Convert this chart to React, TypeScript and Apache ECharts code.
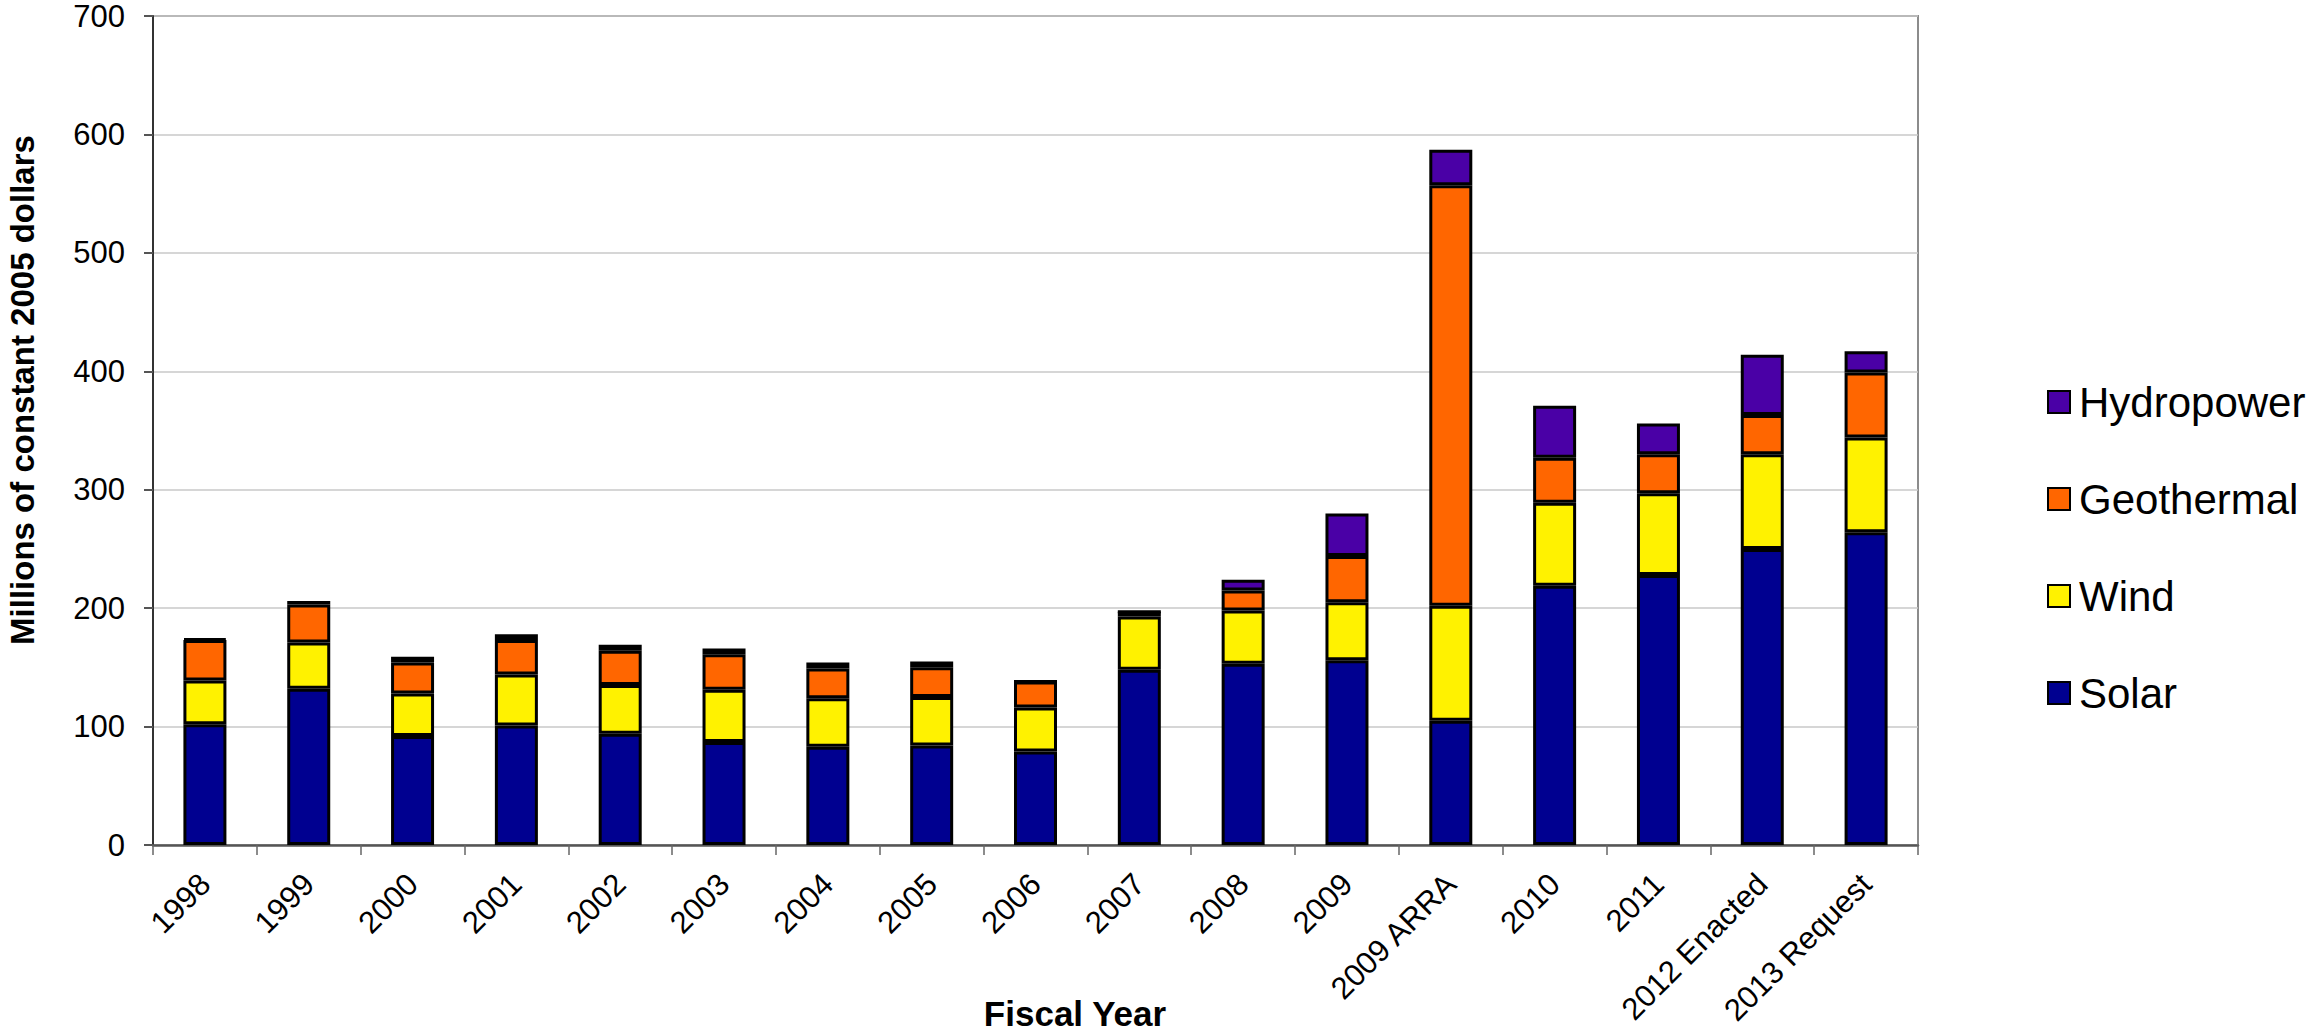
import React, { useEffect, useRef } from "react";
import * as echarts from "echarts";

const categories = [
  "1998", "1999", "2000", "2001", "2002", "2003", "2004", "2005", "2006",
  "2007", "2008", "2009", "2009 ARRA", "2010", "2011", "2012 Enacted", "2013 Request",
];
const solar = [102, 132, 92, 101, 94, 87, 83, 84, 79, 148, 153, 156, 105, 219, 228, 250, 264];
const wind = [37, 39, 36, 43, 41, 44, 41, 41, 37, 45, 45, 49, 97, 70, 69, 80, 80];
const geothermal = [34, 32, 26, 29, 29, 30, 25, 25, 22, 4, 17, 39, 355, 38, 33, 33, 55];
const hydropower = [1, 3, 5, 5, 5, 5, 5, 5, 0, 0, 9, 36, 30, 44, 26, 51, 18];
const yTicks = [0, 100, 200, 300, 400, 500, 600, 700];
const legendOrder = ["Hydropower", "Geothermal", "Wind", "Solar"];

const FONT = "'Liberation Sans', Arial, Helvetica, sans-serif";

export default function App() {
  const ref = useRef<HTMLDivElement>(null);
  useEffect(() => {
    document.body.style.margin = "0";
    const chart = echarts.init(ref.current!, null, { renderer: "svg" });
    const mk = (name: string, data: number[], color: string) => ({
      name,
      type: "bar",
      stack: "total",
      data,
      barWidth: 43,
      itemStyle: { color, borderColor: "#000", borderWidth: 3 },
    });
    chart.setOption({
      animation: false,
      backgroundColor: "#fff",
      textStyle: { fontFamily: FONT },
      grid: {
        left: 153,
        right: 390,
        top: 16,
        bottom: 188,
        show: true,
        borderColor: "#8c8c8c",
        borderWidth: 2,
      },
      legend: {
        orient: "vertical",
        left: 2042,
        top: 376,
        itemWidth: 22,
        itemHeight: 22,
        itemGap: 55,
        icon: "rect",
        data: legendOrder,
        itemStyle: { borderColor: "#000", borderWidth: 2 },
        textStyle: {
          fontSize: 42,
          lineHeight: 42,
          color: "#000",
          fontFamily: FONT,
          padding: [0, 0, 0, 4],
        },
      },
      xAxis: {
        type: "category",
        data: categories,
        axisLine: { lineStyle: { color: "#555", width: 2.5 } },
        axisTick: { show: true, length: 10, lineStyle: { color: "#666", width: 1.5 } },
        axisLabel: {
          rotate: 45,
          fontSize: 31,
          color: "#000",
          margin: 34,
          interval: 0,
          fontFamily: FONT,
        },
      },
      yAxis: {
        type: "value",
        min: yTicks[0],
        max: yTicks[yTicks.length - 1],
        interval: 100,
        axisLine: { show: true, lineStyle: { color: "#333", width: 2 } },
        axisTick: { show: true, length: 9, lineStyle: { color: "#555", width: 2 } },
        axisLabel: { fontSize: 31, lineHeight: 26, color: "#000", margin: 28, fontFamily: FONT },
        splitLine: { lineStyle: { color: "#c8c8c8", width: 1.5 } },
      },
      graphic: [
        {
          type: "text",
          x: 22,
          y: 390,
          rotation: Math.PI / 2,
          style: {
            text: "Millions of constant 2005 dollars",
            fontSize: 33,
            fontWeight: "bold",
            fontFamily: FONT,
            fill: "#000",
            align: "center",
            verticalAlign: "middle",
          },
        },
        {
          type: "text",
          x: 1075,
          y: 1013,
          style: {
            text: "Fiscal Year",
            fontSize: 35,
            fontWeight: "bold",
            fontFamily: FONT,
            fill: "#000",
            align: "center",
            verticalAlign: "middle",
          },
        },
      ],
      series: [
        mk("Solar", solar, "#000090"),
        mk("Wind", wind, "#FFF200"),
        mk("Geothermal", geothermal, "#FF6600"),
        mk("Hydropower", hydropower, "#4A00A6"),
      ],
    });
    return () => chart.dispose();
  }, []);
  return (
    <div
      ref={ref}
      style={{ position: "absolute", left: 0, top: 0, width: 2308, height: 1033 }}
    />
  );
}
